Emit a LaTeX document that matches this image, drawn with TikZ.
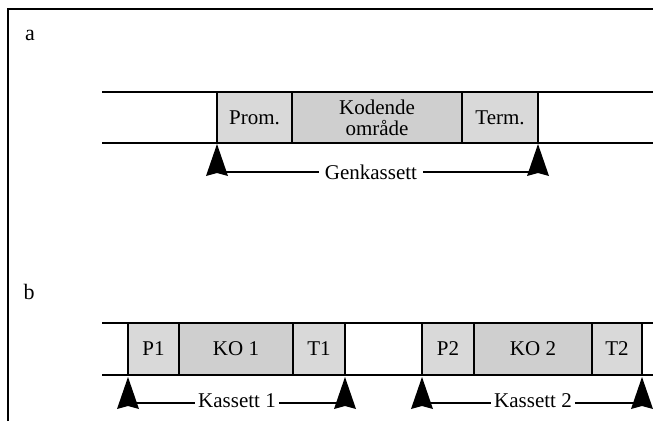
\documentclass[tikz,border=0pt]{standalone}
\usepackage{fontspec}
\setmainfont{Liberation Serif}
\begin{document}
\begin{tikzpicture}[x=1pt,y=-1pt,
  txt/.style={font=\fontsize{21}{21}\selectfont, inner sep=0pt},
  seg/.style={draw=black, line width=2.2pt, minimum height=51pt, inner sep=0pt,
              font=\fontsize{21}{21}\selectfont, align=center},
  regbox/.style={seg, fill=gray!30},
  codebox/.style={seg, fill=gray!38},
  strand/.style={line width=2.2pt},
  span/.style={line width=1.6pt},
  spanlabel/.style={txt, inner xsep=6pt, fill=white},
  cassmark/.pic={\fill[black] (0,0) -- (-11,32) -- (0,29) -- (11,32) -- cycle;}
]
\useasboundingbox (0,0) rectangle (653,421);
% outer frame
\draw[line width=1.5pt] (8,421) -- (8,9) -- (653,9);

% ---------- a: gene cassette ----------
\node[txt, font=\fontsize{22}{22}\selectfont] (la) at (30,35) {a};
\draw[strand] (102,92) -- (653,92);
\draw[strand] (102,143) -- (653,143);
\node[regbox, minimum width=75pt]  (prom) at (254.5,117.5) {Prom.};
\node[codebox, minimum width=170pt](kod)  at (377,117.5) {Kodende\\område};
\node[regbox, minimum width=76pt]  (term) at (500,117.5) {Term.};

\coordinate (ga) at (217,144);
\coordinate (gb) at (538,144);
\pic at (ga) {cassmark};
\pic at (gb) {cassmark};
\coordinate (gaL) at (217,172);
\coordinate (gbL) at (538,172);
\node[spanlabel, inner xsep=6pt] (gen) at (371,172) {Genkassett};
\draw[span] (gaL) -- (gen);
\draw[span] (gen) -- (gbL);

% ---------- b: two cassettes ----------
\node[txt, font=\fontsize{22}{22}\selectfont] (lb) at (29,292) {b};
\draw[strand] (102,323) -- (653,323);
\draw[strand] (102,375) -- (653,375);
\node[regbox, minimum width=51pt, minimum height=52pt]  (p1)  at (153.5,349) {P1};
\node[codebox, minimum width=114pt, minimum height=52pt](ko1) at (236,349) {KO 1};
\node[regbox, minimum width=52pt, minimum height=52pt]  (t1)  at (319,349) {T1};
\node[regbox, minimum width=52pt, minimum height=52pt]  (p2)  at (448,349) {P2};
\node[codebox, minimum width=118pt, minimum height=52pt](ko2) at (533,349) {KO 2};
\node[regbox, minimum width=50pt, minimum height=52pt]  (t2)  at (617,349) {T2};

\coordinate (k1a) at (128,377);
\coordinate (k1b) at (345,377);
\coordinate (k2a) at (422,377);
\coordinate (k2b) at (642,377);
\foreach \c in {k1a,k1b,k2a,k2b} \pic at (\c) {cassmark};

\coordinate (k1aL) at (128,403);
\coordinate (k1bL) at (345,403);
\coordinate (k2aL) at (422,403);
\coordinate (k2bL) at (642,403);
\node[spanlabel, inner xsep=3pt] (kas1) at (237,401) {Kassett 1};
\node[spanlabel, inner xsep=3pt] (kas2) at (533,401) {Kassett 2};
\draw[span] (k1aL) -- (k1aL -| kas1.west);
\draw[span] (k1bL -| kas1.east) -- (k1bL);
\draw[span] (k2aL) -- (k2aL -| kas2.west);
\draw[span] (k2bL -| kas2.east) -- (k2bL);
\end{tikzpicture}
\end{document}
